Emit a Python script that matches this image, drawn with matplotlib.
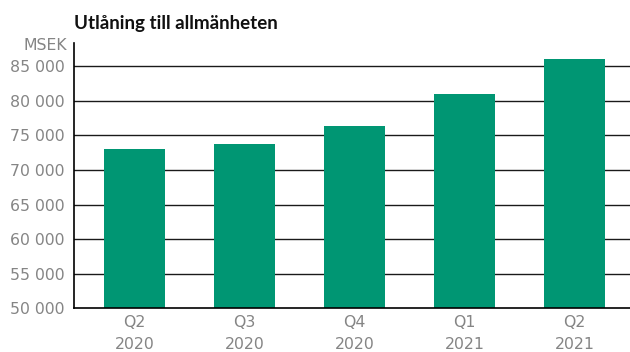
import matplotlib
matplotlib.use("Agg")
import matplotlib.pyplot as plt
from matplotlib.ticker import FuncFormatter

categories = ["Q2\n2020", "Q3\n2020", "Q4\n2020", "Q1\n2021", "Q2\n2021"]
values = [73040, 73760, 76370, 81000, 86060]
yticks = [50000, 55000, 60000, 65000, 70000, 75000, 80000, 85000]

title = "Utlåning till allmänheten"
unit = "MSEK"

plt.rcParams['font.family'] = ['DejaVu Sans']

fig = plt.figure(figsize=(6.3, 3.52), dpi=100)
ax = fig.add_axes([74/630, 1-308.3/352, 1-74/630, (308.3-43)/352])

x = list(range(len(categories)))
ax.bar(x, values, width=0.555, color="#009673", zorder=3)

ax.set_ylim(50000, 88370)
ax.set_xlim(-0.55, 4.505)
ax.set_yticks(yticks)
ax.yaxis.set_major_formatter(FuncFormatter(lambda v, p: f"{int(v):,}".replace(",", " ")))
ax.set_xticks(x)
ax.set_xticklabels(categories, linespacing=1.6)

for t in yticks[1:]:
    ax.axhline(t, color="#1a1a1a", linewidth=1.0, zorder=1)

for s in ["top", "right"]:
    ax.spines[s].set_visible(False)
for s in ["left", "bottom"]:
    ax.spines[s].set_color("#000000")
    ax.spines[s].set_linewidth(1.2)
    ax.spines[s].set_zorder(4)

ax.tick_params(axis="both", length=0, labelsize=11.3, labelcolor="#858585")
ax.tick_params(axis="y", pad=7)
ax.tick_params(axis="x", pad=5)

fig.text(74/630, 1-23/352, title, fontsize=13.5, fontweight="bold", color="#111111",
         ha="left", va="center", family=["Lato", "DejaVu Sans"])
fig.text(67/630, 1-45/352, unit, fontsize=11.3, color="#858585",
         ha="right", va="center")

fig.savefig("out.png", dpi=100)
